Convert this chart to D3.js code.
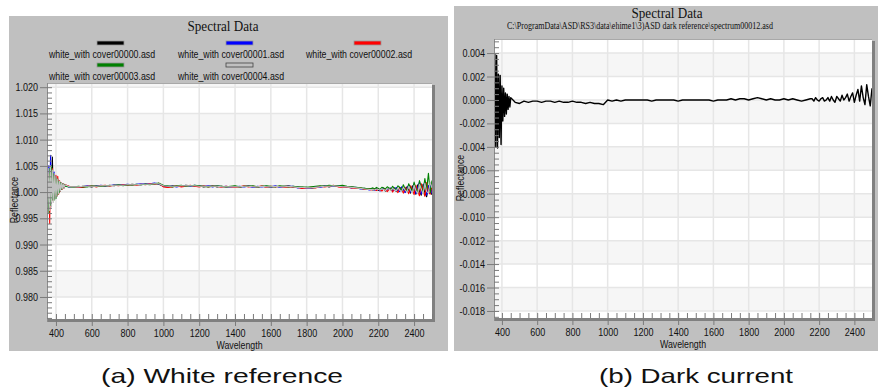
<!DOCTYPE html>
<html>
<head>
<meta charset="utf-8">
<script src="https://cdn.jsdelivr.net/npm/d3@7"></script>
<style>
  body { margin: 0; background: #fff; }
  svg text { font-family: 'Liberation Sans', Arial, sans-serif; fill: #111; }
  .serif { font-family: 'Liberation Serif', 'Times New Roman', serif; }
</style>
</head>
<body>
<svg id="chart" width="878" height="390"></svg>
<script>
// sampling grid (nm), denser where the spectra are noisy
const wavelengths = [
  350,355,360,365,370,375,380,385,390,395,400,405,410,415,420,425,430,435,440,445,450,
  475,500,525,550,575,600,625,650,675,700,
  725,750,775,800,825,850,875,900,925,950,
  975,1000,1025,1050,1075,1100,1125,1150,1175,1200,
  1225,1250,1275,1300,1325,1350,1375,1400,1425,1450,
  1475,1500,1525,1550,1575,1600,1625,1650,1675,1700,
  1725,1750,1775,1800,1825,1850,1875,1900,1925,1950,
  1975,2000,2025,2050,2075,2100,2125,2150,
  2160,2170,2180,2190,2200,2210,2220,2230,2240,2250,
  2260,2270,2280,2290,2300,2310,2320,2330,2340,2350,
  2360,2370,2380,2390,2400,2410,2420,2430,2440,2450,
  2460,2470,2480,2490,2500
];

const white00000 = [
  1.0010,0.9985,1.0040,0.9975,1.0045,0.9980,1.0067,0.9990,1.0035,0.9988,1.0030,0.9992,1.0025,0.9998,1.0020,1.0002,1.0018,1.0006,1.0016,1.0008,1.0014,
  1.0010,1.0010,1.0009,1.0011,1.0011,1.0010,1.0012,1.0012,1.0011,1.0013,
  1.0012,1.0014,1.0013,1.0013,1.0015,1.0014,1.0014,1.0016,1.0015,1.0016,
  1.0015,1.0011,1.0010,1.0012,1.0011,1.0011,1.0013,1.0012,1.0011,1.0012,
  1.0010,1.0011,1.0012,1.0010,1.0011,1.0009,1.0010,1.0011,1.0009,1.0011,
  1.0012,1.0010,1.0009,1.0011,1.0010,1.0009,1.0011,1.0010,1.0011,1.0012,
  1.0009,1.0010,1.0008,1.0009,1.0007,1.0009,1.0010,1.0012,1.0010,1.0012,
  1.0011,1.0011,1.0009,1.0010,1.0008,1.0007,1.0005,1.0006,
  1.0006,1.0004,1.0005,1.0007,1.0003,1.0005,1.0004,1.0006,1.0002,1.0005,
  1.0007,1.0003,1.0004,1.0008,1.0001,1.0005,1.0009,1.0002,1.0006,1.0000,
  1.0010,1.0004,0.9998,1.0012,1.0003,0.9996,1.0014,1.0001,0.9994,1.0015,
  0.9999,0.9991,1.0012,1.0002,0.9995
];

const white00001 = [
  1.0020,0.9975,1.0050,0.9980,1.0070,0.9985,1.0040,0.9992,1.0038,0.9990,1.0028,0.9995,1.0022,1.0000,1.0019,1.0003,1.0017,1.0007,1.0015,1.0009,1.0013,
  1.0009,1.0010,1.0010,1.0010,1.0012,1.0011,1.0011,1.0013,1.0012,1.0012,
  1.0014,1.0013,1.0014,1.0015,1.0014,1.0015,1.0016,1.0015,1.0016,1.0017,
  1.0016,1.0012,1.0011,1.0011,1.0010,1.0012,1.0012,1.0011,1.0013,1.0011,
  1.0011,1.0012,1.0010,1.0012,1.0010,1.0011,1.0009,1.0010,1.0011,1.0010,
  1.0011,1.0009,1.0011,1.0010,1.0011,1.0010,1.0012,1.0009,1.0010,1.0011,
  1.0011,1.0008,1.0009,1.0007,1.0008,1.0010,1.0009,1.0011,1.0012,1.0011,
  1.0012,1.0009,1.0010,1.0008,1.0009,1.0006,1.0007,1.0004,
  1.0005,1.0006,1.0003,1.0005,1.0006,1.0002,1.0005,1.0007,1.0003,1.0004,
  1.0006,1.0008,1.0002,1.0004,1.0009,1.0003,1.0001,1.0010,1.0005,0.9999,
  1.0008,1.0013,1.0000,1.0005,1.0016,0.9997,1.0009,1.0019,0.9996,1.0006,
  1.0021,0.9994,1.0010,1.0017,0.9997
];

const white00002 = [
  1.0030,0.9970,1.0035,0.9940,1.0040,0.9978,1.0045,0.9985,1.0030,0.9990,1.0032,0.9993,1.0030,0.9996,1.0022,1.0002,1.0018,1.0005,1.0016,1.0008,1.0014,
  1.0011,1.0009,1.0010,1.0009,1.0011,1.0012,1.0010,1.0012,1.0013,1.0011,
  1.0013,1.0012,1.0014,1.0013,1.0014,1.0013,1.0015,1.0014,1.0016,1.0015,
  1.0017,1.0010,1.0009,1.0010,1.0012,1.0010,1.0011,1.0013,1.0011,1.0010,
  1.0012,1.0010,1.0011,1.0011,1.0009,1.0011,1.0010,1.0009,1.0010,1.0012,
  1.0010,1.0011,1.0010,1.0012,1.0009,1.0011,1.0010,1.0011,1.0009,1.0010,
  1.0010,1.0009,1.0007,1.0008,1.0009,1.0008,1.0011,1.0010,1.0011,1.0013,
  1.0010,1.0009,1.0010,1.0008,1.0007,1.0008,1.0005,1.0006,
  1.0004,1.0006,1.0005,1.0003,1.0006,1.0004,1.0002,1.0006,1.0005,1.0001,
  1.0005,1.0007,1.0000,1.0006,1.0004,0.9999,1.0008,1.0005,0.9998,1.0009,
  1.0004,0.9997,1.0012,1.0006,0.9995,1.0013,1.0002,0.9993,1.0016,1.0004,
  0.9992,1.0018,1.0000,0.9996,1.0012
];

const white00003 = [
  0.9900,1.0030,0.9960,1.0045,0.9975,1.0050,0.9985,1.0035,0.9985,1.0030,0.9988,1.0026,0.9995,1.0021,1.0000,1.0018,1.0005,1.0016,1.0008,1.0015,1.0011,
  1.0010,1.0009,1.0011,1.0010,1.0010,1.0012,1.0011,1.0011,1.0012,1.0012,
  1.0013,1.0014,1.0012,1.0014,1.0013,1.0015,1.0014,1.0015,1.0014,1.0016,
  1.0017,1.0013,1.0012,1.0010,1.0012,1.0013,1.0011,1.0012,1.0013,1.0012,
  1.0011,1.0010,1.0011,1.0012,1.0011,1.0010,1.0011,1.0012,1.0010,1.0011,
  1.0011,1.0012,1.0010,1.0011,1.0012,1.0011,1.0010,1.0012,1.0011,1.0010,
  1.0011,1.0010,1.0010,1.0009,1.0010,1.0011,1.0012,1.0011,1.0013,1.0012,
  1.0012,1.0013,1.0011,1.0010,1.0009,1.0008,1.0007,1.0006,
  1.0007,1.0008,1.0006,1.0009,1.0007,1.0005,1.0009,1.0008,1.0006,1.0010,
  1.0008,1.0005,1.0011,1.0007,1.0004,1.0012,1.0009,1.0003,1.0014,1.0006,
  1.0002,1.0016,1.0008,1.0000,1.0019,1.0006,0.9999,1.0022,1.0010,0.9998,
  1.0026,1.0004,1.0036,0.9999,1.0022
];

const white00004 = [
  1.0015,0.9960,1.0045,0.9965,1.0050,0.9972,1.0042,0.9980,1.0036,0.9986,1.0030,0.9992,1.0025,0.9997,1.0021,1.0002,1.0018,1.0006,1.0016,1.0008,1.0014,
  1.0010,1.0010,1.0010,1.0011,1.0011,1.0011,1.0011,1.0012,1.0012,1.0012,
  1.0013,1.0013,1.0013,1.0014,1.0014,1.0014,1.0015,1.0015,1.0015,1.0016,
  1.0016,1.0012,1.0011,1.0011,1.0011,1.0012,1.0012,1.0012,1.0012,1.0011,
  1.0011,1.0011,1.0011,1.0011,1.0010,1.0010,1.0010,1.0010,1.0010,1.0011,
  1.0011,1.0010,1.0010,1.0011,1.0010,1.0010,1.0011,1.0010,1.0010,1.0011,
  1.0010,1.0009,1.0009,1.0008,1.0008,1.0009,1.0010,1.0011,1.0011,1.0012,
  1.0011,1.0010,1.0010,1.0009,1.0008,1.0007,1.0006,1.0005,
  1.0005,1.0005,1.0004,1.0006,1.0005,1.0004,1.0006,1.0005,1.0003,1.0006,
  1.0006,1.0003,1.0007,1.0005,1.0002,1.0008,1.0004,1.0001,1.0009,1.0004,
  1.0000,1.0011,1.0004,0.9998,1.0013,1.0003,0.9997,1.0015,1.0006,0.9996,
  1.0017,1.0001,0.9998,1.0019,1.0008
];

const darkSpectrum = [
  0.0000,-0.0072,0.0039,-0.0040,0.0038,-0.0041,0.0022,-0.0032,0.0021,-0.0038,0.0012,-0.0018,0.0010,-0.0014,0.0006,-0.0012,0.0005,-0.0008,0.0003,-0.0006,0.0002,
  -0.0002,-0.0003,-0.0001,-0.0002,-0.0001,-0.0001,-0.0002,-0.0001,-0.0001,-0.0002,
  -0.0001,-0.0002,-0.0002,-0.0001,-0.0002,-0.0002,-0.0003,-0.0002,-0.0003,-0.0003,
  -0.0004,0.0000,-0.0001,0.0000,-0.0001,0.0000,0.0000,0.0000,0.0000,0.0000,
  0.0000,-0.0001,0.0000,0.0000,0.0000,0.0000,0.0000,-0.0001,0.0000,0.0000,
  0.0000,0.0000,0.0000,0.0000,0.0000,-0.0001,0.0000,0.0000,0.0000,0.0001,
  0.0000,0.0001,0.0001,0.0000,0.0001,0.0002,0.0001,0.0000,0.0001,0.0000,
  0.0000,0.0001,0.0000,0.0001,0.0000,-0.0001,0.0000,0.0001,
  0.0001,-0.0001,0.0002,0.0000,-0.0001,0.0001,0.0002,-0.0001,0.0000,0.0002,
  -0.0001,0.0003,0.0000,-0.0002,0.0003,0.0001,-0.0001,0.0004,0.0000,0.0002,
  0.0005,-0.0001,0.0003,0.0006,-0.0002,0.0004,0.0009,-0.0001,0.0012,0.0002,
  -0.0004,0.0013,0.0003,-0.0005,0.0010
];

const whiteNames = ["white_with cover00000.asd", "white_with cover00001.asd", "white_with cover00002.asd",
                    "white_with cover00003.asd", "white_with cover00004.asd"];
const whiteColors = ["#000000", "#0000ff", "#ff0000", "#008000", "#c0c0c0"];

const xTicks = [400, 600, 800, 1000, 1200, 1400, 1600, 1800, 2000, 2200, 2400];
const xTickLabels = ["400", "600", "800", "1000", "1200", "1400", "1600", "1800", "2000", "2200", "2400"];
const yTicksWhite = [0.980, 0.985, 0.990, 0.995, 1.000, 1.005, 1.010, 1.015, 1.020];
const yTickLabelsWhite = ["0.980", "0.985", "0.990", "0.995", "1.000", "1.005", "1.010", "1.015", "1.020"];
const yTicksDark = [-0.018, -0.016, -0.014, -0.012, -0.010, -0.008, -0.006, -0.004, -0.002, 0.000, 0.002, 0.004];
const yTickLabelsDark = ["-0.018", "-0.016", "-0.014", "-0.012", "-0.010", "-0.008", "-0.006", "-0.004", "-0.002", "0.000", "0.002", "0.004"];

[white00000, white00001, white00002, white00003, white00004, darkSpectrum].forEach((s, i) => {
    if (s.length !== wavelengths.length) throw new Error("series " + i + " has " + s.length + " values");
});

const svg = d3.select("#chart");

// the original uses a narrow sans; squeeze the installed one to match
function condense(sel, k) {
    sel.each(function () {
        let w = this.getComputedTextLength();
        d3.select(this).attr("textLength", w * k).attr("lengthAdjust", "spacingAndGlyphs");
    });
}

function drawPanel(p) {
    let g = svg.append("g");

    g.append("rect")
        .attr("x", p.box[0]).attr("y", p.box[1])
        .attr("width", p.box[2]).attr("height", p.box[3])
        .attr("fill", "#c0c0c0");

    let x = d3.scaleLinear().domain(p.xDomain).range([p.left, p.right]);
    let y = d3.scaleLinear().domain(p.yDomain).range([p.bottom, p.top]);

    g.append("rect")
        .attr("x", p.left).attr("y", p.top)
        .attr("width", p.right - p.left).attr("height", p.bottom - p.top)
        .attr("fill", "#fff");

    // alternating bands between the major y ticks
    let edges = [p.yDomain[0], ...p.yTicks, p.yDomain[1]];
    let bands = d3.pairs(edges).filter((d, i) => i % 2 === 1);
    g.append("g")
        .selectAll("rect")
        .data(bands)
        .join("rect")
        .attr("x", p.left)
        .attr("y", d => y(d[1]))
        .attr("width", p.right - p.left)
        .attr("height", d => y(d[0]) - y(d[1]))
        .attr("fill", "#f6f6f6");

    // grid
    g.append("g")
        .selectAll("line")
        .data(xTicks)
        .join("line")
        .attr("x1", d => x(d)).attr("x2", d => x(d))
        .attr("y1", p.top).attr("y2", p.bottom)
        .attr("stroke", "#e6e6e6").attr("stroke-width", 1.5);
    g.append("g")
        .selectAll("line")
        .data(p.yTicks)
        .join("line")
        .attr("x1", p.left).attr("x2", p.right)
        .attr("y1", d => y(d)).attr("y2", d => y(d))
        .attr("stroke", "#e6e6e6").attr("stroke-width", 1.5);

    // spectra
    let clipId = "clip" + p.id;
    g.append("clipPath").attr("id", clipId)
        .append("rect")
        .attr("x", p.left).attr("y", p.top)
        .attr("width", p.right - p.left).attr("height", p.bottom - p.top);

    let line = d3.line()
        .x((d, i) => x(wavelengths[i]))
        .y(d => y(d));

    g.append("g")
        .attr("clip-path", `url(#${clipId})`)
        .selectAll("path")
        .data(p.series)
        .join("path")
        .attr("d", d => line(d))
        .attr("fill", "none")
        .attr("stroke", (d, i) => p.colors[i])
        .attr("stroke-width", p.lineWidth)
        .attr("stroke-linejoin", "round");

    // frame: thin top/left, dark shadow at right and bottom
    g.append("line")
        .attr("x1", p.left).attr("x2", p.right)
        .attr("y1", p.top + 0.5).attr("y2", p.top + 0.5)
        .attr("stroke", "#a8a8a8");
    g.append("rect")
        .attr("x", p.right).attr("y", p.top + 2)
        .attr("width", 3).attr("height", p.bottom - p.top + 1)
        .attr("fill", "#808080");
    g.append("rect")
        .attr("x", p.left).attr("y", p.bottom)
        .attr("width", p.right - p.left + 3).attr("height", 3)
        .attr("fill", "#808080");
    g.append("line")
        .attr("x1", p.left + 0.5).attr("x2", p.left + 0.5)
        .attr("y1", p.top).attr("y2", p.bottom + 3)
        .attr("stroke", "#8c8c8c");

    // axes
    let yAxis = g.append("g")
        .attr("transform", `translate(${p.left},0)`)
        .call(d3.axisLeft(y).tickValues(p.yTicks).tickSize(7).tickPadding(2)
            .tickFormat((d, i) => p.yLabels[i]));
    let yMinor = g.append("g")
        .attr("transform", `translate(${p.left},0)`)
        .call(d3.axisRight(y).tickValues(y.ticks(p.yMinorCount)).tickSize(5).tickFormat(""));
    let xAxis = g.append("g")
        .attr("transform", `translate(0,${p.bottom})`)
        .call(d3.axisBottom(x).tickValues(xTicks).tickSize(7).tickPadding(3)
            .tickFormat((d, i) => xTickLabels[i]));
    let xMinor = g.append("g")
        .attr("transform", `translate(0,${p.bottom})`)
        .call(d3.axisTop(x).tickValues(x.ticks(43).filter(d => d > p.xDomain[0])).tickSize(5).tickFormat(""));

    [yAxis, yMinor, xAxis, xMinor].forEach(a => {
        a.select(".domain").remove();
        a.selectAll("line").attr("stroke", "#7a7a7a");
        a.selectAll("text")
            .style("font-family", "'Liberation Sans', Arial, sans-serif")
            .style("font-size", "11px").attr("fill", "#111");
    });
    condense(yAxis.selectAll("text"), 0.82);
    condense(xAxis.selectAll("text"), 0.82);

    // axis titles
    g.append("text")
        .attr("x", (p.left + p.right) / 2).attr("y", p.bottom + 30)
        .attr("text-anchor", "middle")
        .style("font-size", "11px")
        .text("Wavelength")
        .call(condense, 0.8);
    g.append("text")
        .attr("transform", `translate(${p.yTitleX},${p.yTitleY}) rotate(-90)`)
        .attr("text-anchor", "middle")
        .style("font-size", "11px")
        .text("Reflectance")
        .call(condense, 0.8);

    // title
    g.append("text")
        .attr("class", "serif")
        .attr("x", p.titleX).attr("y", p.titleY)
        .attr("text-anchor", "middle")
        .attr("textLength", 71).attr("lengthAdjust", "spacingAndGlyphs")
        .style("font-size", "14px")
        .text("Spectral Data");

    // caption under the panel
    svg.append("text")
        .attr("x", p.captionX).attr("y", 383)
        .attr("text-anchor", "middle")
        .attr("textLength", p.captionWidth).attr("lengthAdjust", "spacingAndGlyphs")
        .style("font-size", "21px")
        .text(p.caption);

    return g;
}

let left = drawPanel({
    id: "a", box: [9, 16, 439, 335],
    left: 47, right: 432, top: 83, bottom: 319,
    xDomain: [350, 2500], yDomain: [0.9758, 1.0208],
    yTicks: yTicksWhite, yLabels: yTickLabelsWhite, yMinorCount: 45,
    series: [white00000, white00001, white00002, white00003, white00004],
    colors: whiteColors, lineWidth: 1.1,
    yTitleX: 18, yTitleY: 200,
    titleX: 223, titleY: 31,
    caption: "(a) White reference", captionX: 222, captionWidth: 242
});

let right = drawPanel({
    id: "b", box: [454, 6, 424, 345],
    left: 494, right: 872, top: 39, bottom: 318,
    xDomain: [355, 2500], yDomain: [-0.0186, 0.0052],
    yTicks: yTicksDark, yLabels: yTickLabelsDark, yMinorCount: 40,
    series: [darkSpectrum],
    colors: ["#000"], lineWidth: 1.4,
    yTitleX: 464, yTitleY: 178,
    titleX: 667, titleY: 18,
    caption: "(b) Dark current", captionX: 696, captionWidth: 194
});

// legend of the white reference panel
let legendCols = [102, 231, 359];
let legend = left.append("g")
    .selectAll("g")
    .data(whiteNames)
    .join("g")
    .attr("transform", (d, i) => `translate(${legendCols[i % 3]},${i < 3 ? 58 : 80})`);
legend.append("rect")
    .attr("x", -5).attr("y", -17)
    .attr("width", 27).attr("height", 4)
    .attr("fill", (d, i) => whiteColors[i])
    .attr("stroke", (d, i) => i === 4 ? "#444" : "#9a9a9a")
    .attr("stroke-width", 0.8);
legend.append("text")
    .attr("text-anchor", "middle")
    .style("font-size", "11px")
    .text(d => d)
    .call(condense, 0.8);

// file path under the dark panel title
right.append("text")
    .attr("class", "serif")
    .attr("x", 640).attr("y", 29)
    .attr("text-anchor", "middle")
    .attr("textLength", 266).attr("lengthAdjust", "spacingAndGlyphs")
    .style("font-size", "10px")
    .text("C:\\ProgramData\\ASD\\RS3\\data\\ehime1\\3)ASD dark reference\\spectrum00012.asd");
</script>
</body>
</html>
